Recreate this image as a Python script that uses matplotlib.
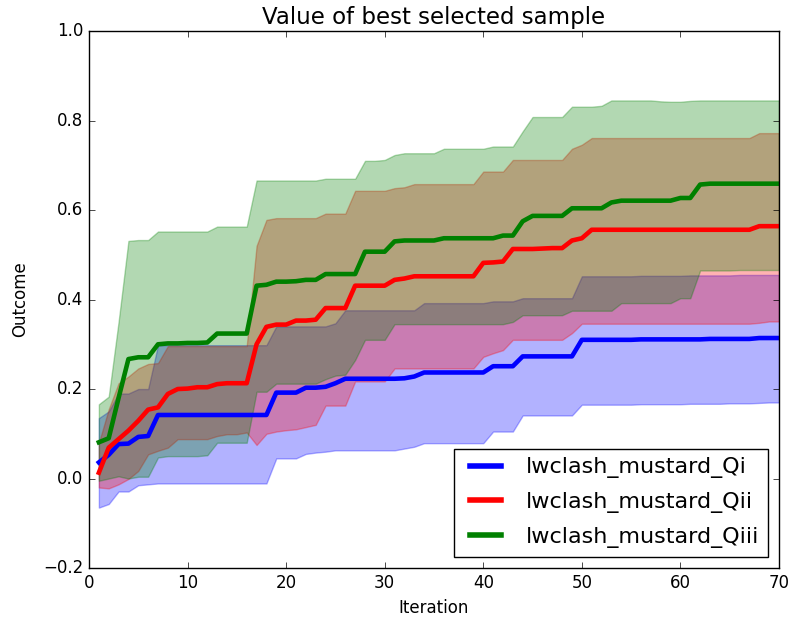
import numpy as np
import matplotlib
matplotlib.use("Agg")
import matplotlib.pyplot as plt

plt.style.use("classic")

iterations = np.arange(1, 71)

labels = ["lwclash_mustard_Qi", "lwclash_mustard_Qii", "lwclash_mustard_Qiii"]
colors = ["b", "r", "g"]

qi_mean = [0.036, 0.053, 0.077, 0.078, 0.093, 0.095, 0.142, 0.142, 0.142, 0.142,
           0.142, 0.142, 0.142, 0.142, 0.142, 0.142, 0.142, 0.142, 0.192, 0.192,
           0.192, 0.203, 0.203, 0.205, 0.213, 0.223, 0.223, 0.223, 0.223, 0.223,
           0.223, 0.224, 0.228, 0.237, 0.237, 0.237, 0.237, 0.237, 0.237, 0.237,
           0.251, 0.251, 0.251, 0.273, 0.273, 0.273, 0.273, 0.273, 0.273, 0.310,
           0.310, 0.310, 0.310, 0.310, 0.310, 0.311, 0.311, 0.311, 0.311, 0.311,
           0.311, 0.311, 0.312, 0.312, 0.312, 0.312, 0.312, 0.314, 0.314, 0.314]
qi_lo = [-0.065, -0.057, -0.029, -0.029, -0.015, -0.013, -0.011, -0.011, -0.011, -0.011,
         -0.011, -0.011, -0.011, -0.011, -0.011, -0.011, -0.011, -0.011, 0.045, 0.045,
         0.045, 0.055, 0.058, 0.060, 0.063, 0.063, 0.063, 0.063, 0.063, 0.063,
         0.063, 0.067, 0.071, 0.079, 0.079, 0.079, 0.079, 0.079, 0.079, 0.079,
         0.105, 0.105, 0.105, 0.141, 0.141, 0.141, 0.141, 0.141, 0.141, 0.165,
         0.165, 0.165, 0.165, 0.165, 0.165, 0.166, 0.166, 0.166, 0.166, 0.166,
         0.167, 0.167, 0.167, 0.167, 0.168, 0.168, 0.168, 0.169, 0.170, 0.170]
qi_hi = [0.135, 0.150, 0.190, 0.190, 0.200, 0.200, 0.298, 0.298, 0.298, 0.298,
         0.298, 0.298, 0.298, 0.298, 0.298, 0.298, 0.298, 0.298, 0.340, 0.340,
         0.340, 0.340, 0.340, 0.340, 0.347, 0.376, 0.376, 0.376, 0.376, 0.376,
         0.376, 0.376, 0.376, 0.392, 0.392, 0.392, 0.392, 0.392, 0.392, 0.392,
         0.396, 0.396, 0.396, 0.403, 0.403, 0.403, 0.403, 0.403, 0.403, 0.452,
         0.452, 0.452, 0.452, 0.452, 0.452, 0.453, 0.453, 0.453, 0.453, 0.453,
         0.454, 0.454, 0.454, 0.454, 0.454, 0.455, 0.455, 0.455, 0.455, 0.455]

qii_mean = [0.013, 0.069, 0.088, 0.107, 0.129, 0.154, 0.159, 0.189, 0.200, 0.201,
            0.204, 0.204, 0.211, 0.213, 0.213, 0.213, 0.300, 0.339, 0.344, 0.344,
            0.353, 0.353, 0.355, 0.381, 0.381, 0.381, 0.431, 0.431, 0.431, 0.431,
            0.444, 0.447, 0.452, 0.452, 0.452, 0.452, 0.452, 0.452, 0.452, 0.482,
            0.483, 0.485, 0.513, 0.513, 0.513, 0.514, 0.515, 0.515, 0.532, 0.537,
            0.556, 0.556, 0.556, 0.556, 0.556, 0.556, 0.556, 0.556, 0.556, 0.556,
            0.556, 0.556, 0.556, 0.556, 0.556, 0.556, 0.556, 0.564, 0.564, 0.564]
qii_lo = [-0.020, -0.022, -0.013, -0.001, 0.017, 0.054, 0.062, 0.069, 0.088, 0.088,
          0.088, 0.088, 0.095, 0.099, 0.099, 0.103, 0.075, 0.100, 0.105, 0.108,
          0.110, 0.115, 0.120, 0.163, 0.163, 0.163, 0.217, 0.217, 0.217, 0.217,
          0.246, 0.246, 0.246, 0.246, 0.246, 0.246, 0.246, 0.246, 0.246, 0.272,
          0.280, 0.287, 0.310, 0.310, 0.310, 0.310, 0.310, 0.310, 0.325, 0.346,
          0.346, 0.346, 0.346, 0.346, 0.346, 0.346, 0.346, 0.346, 0.346, 0.346,
          0.346, 0.346, 0.346, 0.346, 0.346, 0.346, 0.346, 0.348, 0.351, 0.351]
qii_hi = [0.080, 0.155, 0.213, 0.228, 0.246, 0.256, 0.258, 0.296, 0.296, 0.296,
          0.296, 0.296, 0.296, 0.296, 0.296, 0.296, 0.520, 0.578, 0.582, 0.582,
          0.582, 0.582, 0.582, 0.592, 0.592, 0.592, 0.643, 0.643, 0.643, 0.643,
          0.649, 0.651, 0.658, 0.658, 0.658, 0.658, 0.658, 0.658, 0.658, 0.686,
          0.686, 0.686, 0.712, 0.712, 0.712, 0.712, 0.712, 0.712, 0.737, 0.746,
          0.761, 0.761, 0.761, 0.761, 0.761, 0.761, 0.761, 0.761, 0.761, 0.761,
          0.761, 0.761, 0.761, 0.761, 0.761, 0.761, 0.761, 0.772, 0.772, 0.772]

qiii_mean = [0.081, 0.090, 0.180, 0.267, 0.271, 0.271, 0.300, 0.302, 0.302, 0.303,
             0.303, 0.304, 0.324, 0.324, 0.324, 0.324, 0.431, 0.433, 0.440, 0.440,
             0.441, 0.444, 0.444, 0.457, 0.457, 0.457, 0.457, 0.507, 0.507, 0.507,
             0.530, 0.532, 0.532, 0.532, 0.532, 0.537, 0.537, 0.537, 0.537, 0.537,
             0.537, 0.543, 0.543, 0.575, 0.587, 0.587, 0.587, 0.587, 0.604, 0.604,
             0.604, 0.604, 0.617, 0.621, 0.621, 0.621, 0.621, 0.621, 0.621, 0.627,
             0.627, 0.657, 0.659, 0.659, 0.659, 0.659, 0.659, 0.659, 0.659, 0.659]
qiii_lo = [-0.005, 0.000, 0.005, 0.000, 0.004, 0.004, 0.047, 0.050, 0.050, 0.050,
           0.050, 0.052, 0.080, 0.080, 0.080, 0.080, 0.194, 0.194, 0.212, 0.212,
           0.212, 0.212, 0.212, 0.222, 0.230, 0.232, 0.265, 0.310, 0.310, 0.310,
           0.345, 0.345, 0.345, 0.345, 0.345, 0.345, 0.345, 0.345, 0.345, 0.345,
           0.345, 0.345, 0.350, 0.365, 0.365, 0.365, 0.365, 0.365, 0.375, 0.375,
           0.375, 0.375, 0.375, 0.392, 0.392, 0.392, 0.392, 0.392, 0.392, 0.403,
           0.403, 0.465, 0.465, 0.465, 0.465, 0.466, 0.466, 0.466, 0.466, 0.466]
qiii_hi = [0.166, 0.183, 0.350, 0.531, 0.533, 0.533, 0.552, 0.552, 0.552, 0.552,
           0.552, 0.552, 0.563, 0.563, 0.563, 0.563, 0.666, 0.666, 0.666, 0.666,
           0.666, 0.666, 0.666, 0.670, 0.670, 0.670, 0.670, 0.710, 0.710, 0.712,
           0.723, 0.727, 0.727, 0.727, 0.727, 0.737, 0.737, 0.737, 0.737, 0.737,
           0.742, 0.742, 0.742, 0.776, 0.808, 0.808, 0.808, 0.808, 0.831, 0.831,
           0.831, 0.833, 0.845, 0.845, 0.845, 0.845, 0.845, 0.843, 0.842, 0.842,
           0.844, 0.845, 0.845, 0.845, 0.845, 0.845, 0.845, 0.845, 0.845, 0.845]

means = [qi_mean, qii_mean, qiii_mean]
lows = [qi_lo, qii_lo, qiii_lo]
highs = [qi_hi, qii_hi, qiii_hi]

fig = plt.figure(figsize=(7.89, 6.22), dpi=100)
ax = fig.add_axes([0.1128, 0.0868, 0.8745, 0.8632])

# bands first, mean lines on top
for lo, hi, c in zip(lows, highs, colors):
    ax.fill_between(iterations, lo, hi, color=c, alpha=0.3)

for m, c, lab in zip(means, colors, labels):
    ax.plot(iterations, m, color=c, linewidth=3.3, label=lab)

ax.set_xlim(0, 70)
ax.set_ylim(-0.2, 1.0)
ax.tick_params(labelsize=12)
ax.set_title("Value of best selected sample", fontsize=16.5)
ax.set_xlabel("Iteration", fontsize=12)
ax.set_ylabel("Outcome", fontsize=12, labelpad=10)
leg = ax.legend(loc="lower right", fontsize=16, borderaxespad=0.5,
                labelspacing=0.62)
for line in leg.get_lines():
    line.set_linewidth(4)

fig.savefig("out.png", dpi=100, facecolor="white")
